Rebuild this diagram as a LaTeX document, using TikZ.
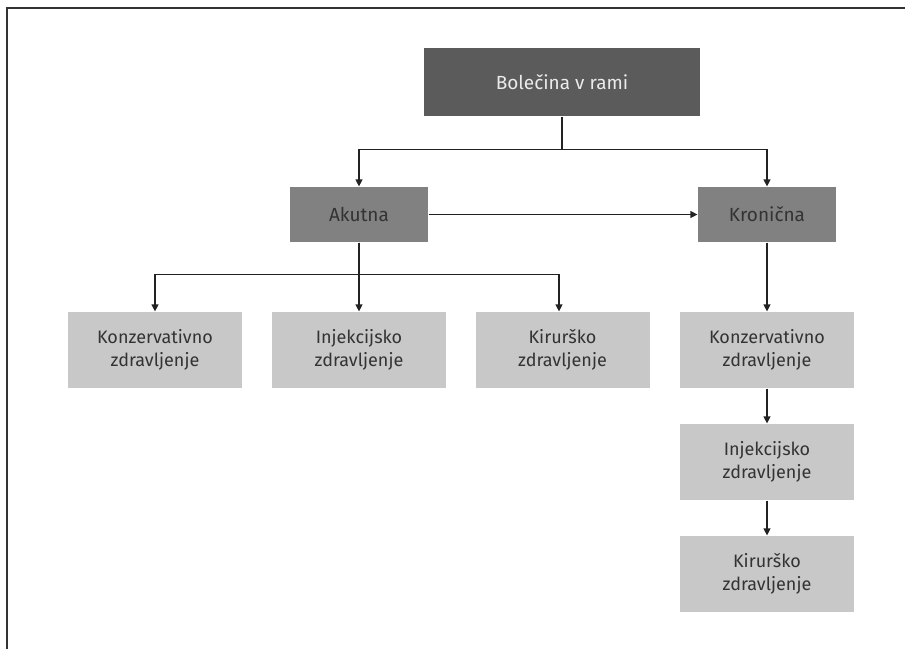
\documentclass[tikz,border=0pt]{standalone}
\usepackage{fontspec}
\setsansfont{Fira Sans}
\usetikzlibrary{arrows.meta, positioning}
\definecolor{cdark}{HTML}{5B5B5B}
\definecolor{cmid}{HTML}{818181}
\definecolor{clight}{HTML}{C8C8C8}
\definecolor{ctext}{HTML}{333333}
\definecolor{cline}{HTML}{222222}
\tikzset{
  every picture/.style={font=\sffamily, line width=1.2pt},
  box/.style={fill=#1, text=ctext, align=center, inner sep=0pt},
  box/.default=clight,
  arrow/.style={-{Triangle[length=7pt, width=7pt]}, draw=cline, line width=1.2pt},
}

\begin{document}
\begin{tikzpicture}[x=1pt, y=-1pt,
    head/.style={box=cmid, minimum width=138pt, minimum height=55pt, font=\sffamily\fontsize{19}{23}\selectfont},
    leaf/.style={box=clight, minimum width=174pt, minimum height=76pt, font=\sffamily\fontsize{18}{22.5}\selectfont}]
  \useasboundingbox (0,0) rectangle (905,649);
  \draw[line width=2pt, draw=ctext] (905,7.5) -| (7,649);

  \node[head, box=cdark, text=white!92!black, minimum width=276pt, minimum height=68pt] (root) at (562,82) {Bolečina v rami};
  \node[head] (akut) at (359,214.5) {Akutna};
  \node[head] (kron) at (767,214.5) {Kronična};
  \draw[arrow] (root.south) -- ++(0,33) -| (akut.north);
  \draw[arrow] (root.south) -- ++(0,33) -| (kron.north);
  \draw[arrow] (akut.east) -- (kron.west);

  % ---- akutna: three options side by side
  \foreach \n/\x/\t in {akons/155/Konzervativno, ainj/359/Injekcijsko, akir/562.5/Kirurško}
    { \node[leaf] (\n) at (\x,350) {\t\\zdravljenje}; }
  \draw[arrow] (akut.south) -- ++(0,32) -| (akons.north);
  \draw[arrow] (akut.south) -- (ainj.north);
  \draw[arrow] (akut.south) -- ++(0,32) -| ([xshift=-3.5pt]akir.north);

  % ---- kronicna: one after another
  \foreach \n/\y/\t in {kkons/350/Konzervativno, kinj/462/Injekcijsko, kkir/574/Kirurško}
    { \node[leaf] (\n) at (767,\y) {\t\\zdravljenje}; }
  \draw[arrow] (kron.south) -- (kkons.north);
  \draw[arrow] (kkons.south) -- (kinj.north);
  \draw[arrow] (kinj.south) -- (kkir.north);
\end{tikzpicture}
\end{document}
